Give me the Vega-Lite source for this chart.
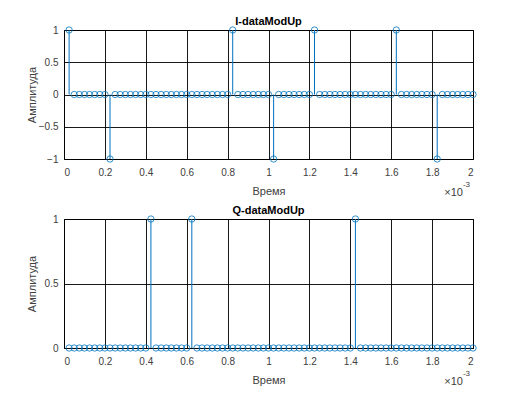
{
  "$schema": "https://vega.github.io/schema/vega-lite/v6.json",
  "padding": {"left": 25, "top": 15, "right": 5, "bottom": 5},
  "background": "white",
  "datasets": {
    "sig": [
      {"t":0.025,"I":1,"Q":0},{"t":0.05,"I":0,"Q":0},{"t":0.075,"I":0,"Q":0},{"t":0.1,"I":0,"Q":0},
      {"t":0.125,"I":0,"Q":0},{"t":0.15,"I":0,"Q":0},{"t":0.175,"I":0,"Q":0},{"t":0.2,"I":0,"Q":0},
      {"t":0.225,"I":-1,"Q":0},{"t":0.25,"I":0,"Q":0},{"t":0.275,"I":0,"Q":0},{"t":0.3,"I":0,"Q":0},
      {"t":0.325,"I":0,"Q":0},{"t":0.35,"I":0,"Q":0},{"t":0.375,"I":0,"Q":0},{"t":0.4,"I":0,"Q":0},
      {"t":0.425,"I":0,"Q":1},{"t":0.45,"I":0,"Q":0},{"t":0.475,"I":0,"Q":0},{"t":0.5,"I":0,"Q":0},
      {"t":0.525,"I":0,"Q":0},{"t":0.55,"I":0,"Q":0},{"t":0.575,"I":0,"Q":0},{"t":0.6,"I":0,"Q":0},
      {"t":0.625,"I":0,"Q":1},{"t":0.65,"I":0,"Q":0},{"t":0.675,"I":0,"Q":0},{"t":0.7,"I":0,"Q":0},
      {"t":0.725,"I":0,"Q":0},{"t":0.75,"I":0,"Q":0},{"t":0.775,"I":0,"Q":0},{"t":0.8,"I":0,"Q":0},
      {"t":0.825,"I":1,"Q":0},{"t":0.85,"I":0,"Q":0},{"t":0.875,"I":0,"Q":0},{"t":0.9,"I":0,"Q":0},
      {"t":0.925,"I":0,"Q":0},{"t":0.95,"I":0,"Q":0},{"t":0.975,"I":0,"Q":0},{"t":1,"I":0,"Q":0},
      {"t":1.025,"I":-1,"Q":0},{"t":1.05,"I":0,"Q":0},{"t":1.075,"I":0,"Q":0},{"t":1.1,"I":0,"Q":0},
      {"t":1.125,"I":0,"Q":0},{"t":1.15,"I":0,"Q":0},{"t":1.175,"I":0,"Q":0},{"t":1.2,"I":0,"Q":0},
      {"t":1.225,"I":1,"Q":0},{"t":1.25,"I":0,"Q":0},{"t":1.275,"I":0,"Q":0},{"t":1.3,"I":0,"Q":0},
      {"t":1.325,"I":0,"Q":0},{"t":1.35,"I":0,"Q":0},{"t":1.375,"I":0,"Q":0},{"t":1.4,"I":0,"Q":0},
      {"t":1.425,"I":0,"Q":1},{"t":1.45,"I":0,"Q":0},{"t":1.475,"I":0,"Q":0},{"t":1.5,"I":0,"Q":0},
      {"t":1.525,"I":0,"Q":0},{"t":1.55,"I":0,"Q":0},{"t":1.575,"I":0,"Q":0},{"t":1.6,"I":0,"Q":0},
      {"t":1.625,"I":1,"Q":0},{"t":1.65,"I":0,"Q":0},{"t":1.675,"I":0,"Q":0},{"t":1.7,"I":0,"Q":0},
      {"t":1.725,"I":0,"Q":0},{"t":1.75,"I":0,"Q":0},{"t":1.775,"I":0,"Q":0},{"t":1.8,"I":0,"Q":0},
      {"t":1.825,"I":-1,"Q":0},{"t":1.85,"I":0,"Q":0},{"t":1.875,"I":0,"Q":0},{"t":1.9,"I":0,"Q":0},
      {"t":1.925,"I":0,"Q":0},{"t":1.95,"I":0,"Q":0},{"t":1.975,"I":0,"Q":0},{"t":2,"I":0,"Q":0}
    ],
    "exp": [{"m":"×10","e":"-3"}]
  },
  "spacing": 5,
  "vconcat": [
    {
      "title": "I-dataModUp",
      "width": 409,
      "height": 129,
      "layer": [
        {
          "data": {"name": "sig"},
          "mark": {"type": "rule", "color": "#0072BD", "strokeWidth": 1},
          "encoding": {
            "x": {"field": "t", "type": "quantitative", "scale": {"domain": [0, 2], "nice": false},
                  "axis": {"tickCount": 10, "format": "~g", "title": "Время", "labelPadding": 8, "titlePadding": 8}},
            "y": {"field": "I", "type": "quantitative", "scale": {"domain": [-1, 1], "nice": false},
                  "axis": {"tickCount": 4, "format": "~g", "labelOverlap": false, "title": "Амплитуда", "labelPadding": 6, "titleX": -27}},
            "y2": {"datum": 0}
          }
        },
        {
          "data": {"name": "sig"},
          "mark": {"type": "point", "shape": "circle", "filled": false, "size": 40, "strokeWidth": 0.8, "color": "#0072BD", "opacity": 1},
          "encoding": {
            "x": {"field": "t", "type": "quantitative"},
            "y": {"field": "I", "type": "quantitative"}
          }
        },
        {
          "data": {"name": "exp"},
          "mark": {"type": "text", "align": "right", "baseline": "middle", "dx": -10, "dy": 34, "fontSize": 11, "font": "Liberation Sans", "color": "#404040"},
          "encoding": {"x": {"datum": 2}, "y": {"datum": -1}, "text": {"field": "m"}}
        },
        {
          "data": {"name": "exp"},
          "mark": {"type": "text", "align": "right", "baseline": "middle", "dx": -3, "dy": 26, "fontSize": 8, "font": "Liberation Sans", "color": "#404040"},
          "encoding": {"x": {"datum": 2}, "y": {"datum": -1}, "text": {"field": "e"}}
        }
      ]
    },
    {
      "title": "Q-dataModUp",
      "width": 409,
      "height": 129,
      "layer": [
        {
          "data": {"name": "sig"},
          "mark": {"type": "rule", "color": "#0072BD", "strokeWidth": 1},
          "encoding": {
            "x": {"field": "t", "type": "quantitative", "scale": {"domain": [0, 2], "nice": false},
                  "axis": {"tickCount": 10, "format": "~g", "title": "Время", "labelPadding": 8, "titlePadding": 8}},
            "y": {"field": "Q", "type": "quantitative", "scale": {"domain": [0, 1], "nice": false},
                  "axis": {"tickCount": 2, "format": "~g", "labelOverlap": false, "title": "Амплитуда", "labelPadding": 6, "titleX": -27}},
            "y2": {"datum": 0}
          }
        },
        {
          "data": {"name": "sig"},
          "mark": {"type": "point", "shape": "circle", "filled": false, "size": 40, "strokeWidth": 0.8, "color": "#0072BD", "opacity": 1},
          "encoding": {
            "x": {"field": "t", "type": "quantitative"},
            "y": {"field": "Q", "type": "quantitative"}
          }
        },
        {
          "data": {"name": "exp"},
          "mark": {"type": "text", "align": "right", "baseline": "middle", "dx": -10, "dy": 34, "fontSize": 11, "font": "Liberation Sans", "color": "#404040"},
          "encoding": {"x": {"datum": 2}, "y": {"datum": 0}, "text": {"field": "m"}}
        },
        {
          "data": {"name": "exp"},
          "mark": {"type": "text", "align": "right", "baseline": "middle", "dx": -3, "dy": 26, "fontSize": 8, "font": "Liberation Sans", "color": "#404040"},
          "encoding": {"x": {"datum": 2}, "y": {"datum": 0}, "text": {"field": "e"}}
        }
      ]
    }
  ],
  "config": {
    "view": {"stroke": "#000", "strokeWidth": 1},
    "axis": {"domain": false, "ticks": false, "grid": true, "gridColor": "#000", "gridOpacity": 0.9, "gridWidth": 1,
             "labelFont": "Liberation Sans", "labelFontSize": 10, "labelColor": "#404040",
             "titleFont": "Liberation Sans", "titleFontSize": 11, "titleFontWeight": "normal", "titleColor": "#404040"},
    "title": {"font": "Liberation Sans", "fontSize": 11, "fontWeight": "bold", "color": "#000", "offset": -2}
  }
}
